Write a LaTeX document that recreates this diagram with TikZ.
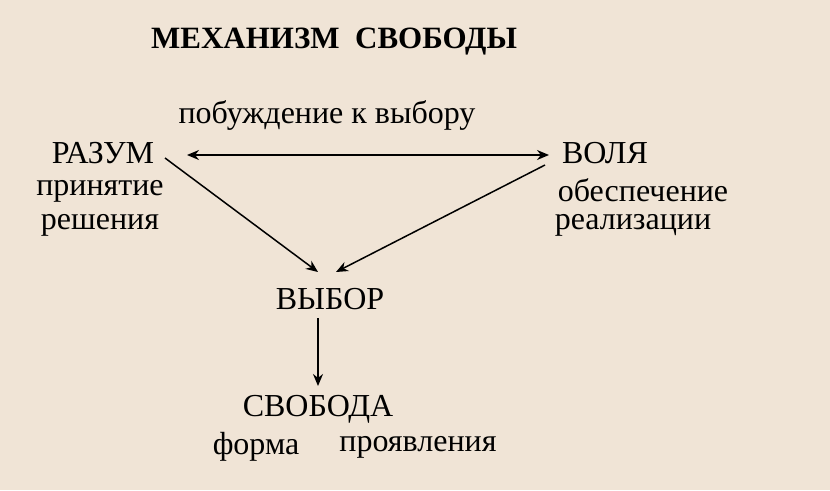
\documentclass[tikz,border=0pt]{standalone}
\usepackage{fontspec}
\setmainfont{Liberation Serif}
\usetikzlibrary{arrows.meta}
\begin{document}
\begin{tikzpicture}[x=1pt,y=-1pt,
  txt/.style={inner sep=0pt,font=\fontsize{32}{34}\selectfont},
  arr/.style={line width=1.5pt,-{Stealth[length=12pt,width=10pt]}}]
  \definecolor{paper}{RGB}{240,228,214}
  \fill[paper] (0,0) rectangle (830,490);
  \useasboundingbox (0,0) rectangle (830,490);
  \node[txt,font=\bfseries\fontsize{31}{33}\selectfont] (title) at (334,42) {МЕХАНИЗМ\ \ СВОБОДЫ};
  \node[txt] (urge) at (327,115) {побуждение к выбору};
  \node[txt] (mind) at (103,153) {РАЗУМ};
  \node[txt] (mind1) at (100,191) {принятие};
  \node[txt] (mind2) at (100,225) {решения};
  \node[txt] (will) at (605,153) {ВОЛЯ};
  \node[txt] (will1) at (643,190) {обеспечение};
  \node[txt] (will2) at (633,225) {реализации};
  \node[txt] (choice) at (330,299) {ВЫБОР};
  \node[txt] (free) at (318,409) {СВОБОДА};
  \node[txt] (free1) at (256,447) {форма};
  \node[txt] (free2) at (418,447) {проявления};
  % connector ends
  \coordinate (mindR) at (187,155);
  \coordinate (willL) at (549,155);
  \coordinate (mindOut) at (165,158);
  \coordinate (willOut) at (545,165);
  \coordinate (choiceL) at (318,272);
  \coordinate (choiceR) at (336,272);
  \coordinate (choiceOut) at (318,318);
  \coordinate (freeIn) at (318,386);
  \draw[arr,{Stealth[length=12pt,width=10pt]}-{Stealth[length=12pt,width=10pt]}] (mindR) -- (willL);
  \draw[arr] (mindOut) -- (choiceL);
  \draw[arr] (willOut) -- (choiceR);
  \draw[arr] (choiceOut) -- (freeIn);
\end{tikzpicture}
\end{document}
